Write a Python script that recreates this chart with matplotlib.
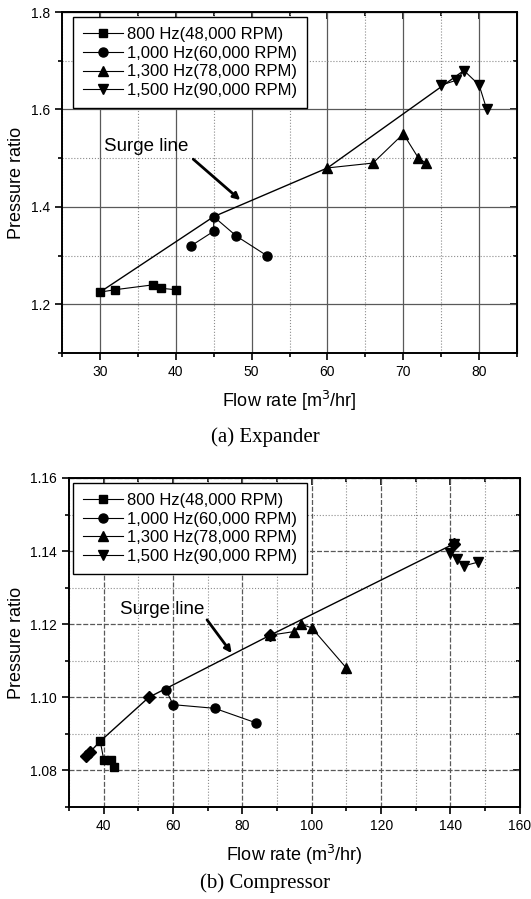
import matplotlib
matplotlib.use("Agg")
import matplotlib.pyplot as plt
from matplotlib.ticker import MultipleLocator, FormatStrFormatter

plt.rcParams['font.family'] = ['Liberation Sans', 'DejaVu Sans']

labels = ['800 Hz(48,000 RPM)', '1,000 Hz(60,000 RPM)',
          '1,300 Hz(78,000 RPM)', '1,500 Hz(90,000 RPM)']
markers = ['s', 'o', '^', 'v']
msizes = [6, 6.5, 7, 7]

# (a) Expander
exp_x = [[30, 32, 37, 38, 40],
         [42, 45, 45, 48, 52],
         [60, 66, 70, 72, 73],
         [75, 77, 78, 80, 81]]
exp_y = [[1.225, 1.23, 1.24, 1.233, 1.23],
         [1.32, 1.35, 1.38, 1.34, 1.30],
         [1.48, 1.49, 1.55, 1.50, 1.49],
         [1.65, 1.66, 1.68, 1.65, 1.60]]
exp_surge_x = [30, 45, 60, 78]
exp_surge_y = [1.225, 1.38, 1.48, 1.68]

# (b) Compressor
comp_x = [[39, 40, 42, 43],
          [58, 60, 72, 84],
          [88, 95, 97, 100, 110],
          [141, 140, 142, 144, 148]]
comp_y = [[1.088, 1.083, 1.083, 1.081],
          [1.102, 1.098, 1.097, 1.093],
          [1.117, 1.118, 1.120, 1.119, 1.108],
          [1.142, 1.1395, 1.1378, 1.136, 1.137]]
comp_surge_x = [35, 36, 39, 53, 88, 141]
comp_surge_y = [1.084, 1.085, 1.088, 1.100, 1.117, 1.142]


def style_axes(ax, xlim, ylim, xmaj, xmin, ymaj, ymin, yfmt, major_ls):
    ax.set_xlim(*xlim)
    ax.set_ylim(*ylim)
    ax.xaxis.set_major_locator(MultipleLocator(xmaj))
    ax.xaxis.set_minor_locator(MultipleLocator(xmin))
    ax.yaxis.set_major_locator(MultipleLocator(ymaj))
    ax.yaxis.set_minor_locator(MultipleLocator(ymin))
    ax.yaxis.set_major_formatter(FormatStrFormatter(yfmt))
    ax.grid(which='major', color='0.35', lw=0.9, ls=major_ls)
    ax.grid(which='minor', color='0.55', lw=0.8, ls=':')
    ax.set_axisbelow(True)
    ax.tick_params(which='both', direction='out', labelsize=10, width=1.2)
    ax.tick_params(which='major', length=5)
    ax.tick_params(which='minor', length=3)
    for s in ax.spines.values():
        s.set_linewidth(1.4)
    # inward ticks on top and right
    top = ax.secondary_xaxis('top')
    top.xaxis.set_major_locator(MultipleLocator(xmaj))
    top.xaxis.set_minor_locator(MultipleLocator(xmin))
    top.tick_params(which='both', direction='in', labeltop=False, width=1.2)
    top.tick_params(which='major', length=5)
    top.tick_params(which='minor', length=3)
    right = ax.secondary_yaxis('right')
    right.yaxis.set_major_locator(MultipleLocator(ymaj))
    right.yaxis.set_minor_locator(MultipleLocator(ymin))
    right.tick_params(which='both', direction='in', labelright=False, width=1.2)
    right.tick_params(which='major', length=5)
    right.tick_params(which='minor', length=3)


def add_legend(ax, handles, anchor):
    leg = ax.legend(handles=handles, loc='upper left', bbox_to_anchor=anchor,
                    borderaxespad=0, fontsize=12, handlelength=2.4,
                    labelspacing=0.22, handletextpad=0.25, borderpad=0.6,
                    fancybox=False, framealpha=1, edgecolor='black')
    leg.get_frame().set_linewidth(1.0)
    return leg


fig = plt.figure(figsize=(5.31, 8.99), dpi=100)

# ---- Expander ----
ax1 = fig.add_axes([0.1168, 0.6073, 0.857, 0.3793])
lines1 = []
for xs, ys, m, ms, lab in zip(exp_x, exp_y, markers, msizes, labels):
    ln, = ax1.plot(xs, ys, color='black', lw=0.8, marker=m, ms=ms, label=lab, zorder=3)
    lines1.append(ln)
ax1.plot(exp_surge_x, exp_surge_y, color='black', lw=1.0, zorder=2)
style_axes(ax1, (25, 85), (1.1, 1.8), 10, 5, 0.2, 0.1, '%.1f', '-')
ax1.set_ylabel('Pressure ratio', fontsize=13, labelpad=4)
ax1.set_xlabel('Flow rate [m$^3$/hr]', fontsize=13, labelpad=7)
ax1.text(30.5, 1.525, 'Surge line', fontsize=13.5, va='center', ha='left')
ax1.annotate('', xy=(48.5, 1.414), xytext=(42.3, 1.498),
             arrowprops=dict(arrowstyle='-|>', color='black', lw=2,
                             mutation_scale=10, shrinkA=0, shrinkB=0))
add_legend(ax1, lines1, (0.024, 0.985))
fig.text(0.5, 1 - 437 / 899, '(a) Expander', ha='center', va='center',
         fontsize=15, family='Liberation Serif')

# ---- Compressor ----
ax2 = fig.add_axes([0.130, 0.1023, 0.849, 0.366])
lines2 = []
for xs, ys, m, ms, lab in zip(comp_x, comp_y, markers, msizes, labels):
    ln, = ax2.plot(xs, ys, color='black', lw=0.8, marker=m, ms=ms, label=lab, zorder=3)
    lines2.append(ln)
ax2.plot(comp_surge_x, comp_surge_y, color='black', lw=1.0, marker='D',
         ms=6.5, markevery=[0, 1, 3, 4, 5], zorder=4)
style_axes(ax2, (30, 160), (1.07, 1.16), 20, 10, 0.02, 0.01, '%.2f', (0, (4, 1.5)))
ax2.set_ylabel('Pressure ratio', fontsize=13, labelpad=4)
ax2.set_xlabel('Flow rate (m$^3$/hr)', fontsize=13, labelpad=7)
ax2.text(44.6, 1.124, 'Surge line', fontsize=13.5, va='center', ha='left')
ax2.annotate('', xy=(76.9, 1.1121), xytext=(69.8, 1.1212),
             arrowprops=dict(arrowstyle='-|>', color='black', lw=2,
                             mutation_scale=10, shrinkA=0, shrinkB=0))
add_legend(ax2, lines2, (0.009, 0.985))
fig.text(0.5, 1 - 883 / 899, '(b) Compressor', ha='center', va='center',
         fontsize=15, family='Liberation Serif')

fig.savefig('out.png', dpi=100)
